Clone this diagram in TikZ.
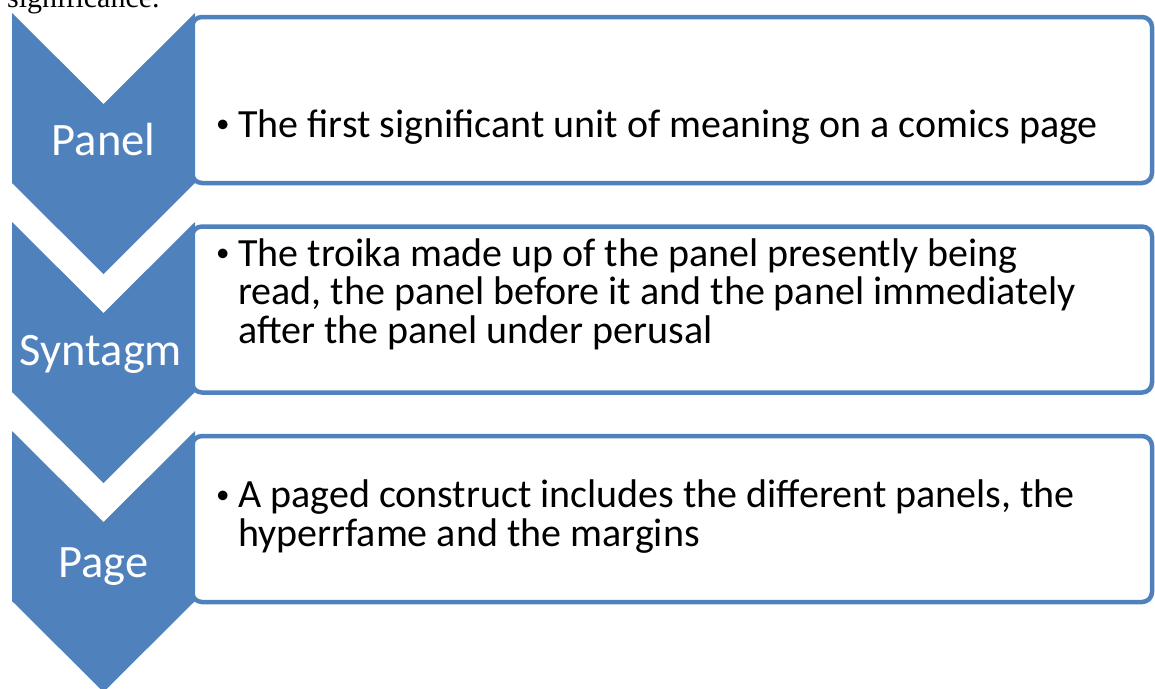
\documentclass[tikz,border=0pt]{standalone}
\usepackage{fontspec}
\setmainfont{Carlito}
\newfontfamily\serifface{Liberation Serif}
\definecolor{chevblue}{HTML}{4F81BD}
\newcommand{\bul}{\makebox[22pt][l]{\raisebox{4.5pt}{\fontsize{27}{27}\selectfont\textbullet}}}
\begin{document}
\begin{tikzpicture}[x=1pt, y=-1pt,
	chev/.style = {fill=chevblue},
	box/.style = {draw=chevblue, line width=4.5pt, fill=white, rounded corners=10pt, minimum width=960pt, minimum height=166pt, inner sep=0pt},
	stage/.style = {text=white, font=\fontsize{46.5}{50}\selectfont, anchor=base, inner sep=0pt},
	desc/.style = {font=\fontsize{40}{38.5}\selectfont, align=left, anchor=base west, inner sep=0pt}]
		\path[use as bounding box, clip] (0,0) rectangle (1155,688);
		\node[anchor=base west, inner sep=0pt, font=\serifface\fontsize{30}{32}\selectfont] (sig) at (7,7) {significance.};
		% boxes
		\node[box] (b1) at (672,100) {};
		\node[box] (b2) at (672,309.5) {};
		\node[box] (b3) at (672,519) {};
		% chevrons
		\fill[chev] (12,13) -- (103.5,104) -- (195,13) -- (195,183) -- (103.5,274) -- (12,183) -- cycle;
		\fill[chev] (12,222) -- (103.5,313) -- (195,222) -- (195,392) -- (103.5,483) -- (12,392) -- cycle;
		\fill[chev] (12,431) -- (103.5,522) -- (195,431) -- (195,601) -- (103.5,692) -- (12,601) -- cycle;
		\node[stage] (panel) at (103.5,155) {Panel};
		\node[stage] (syntagm) at (101,365) {Syntagm};
		\node[stage] (page) at (103.5,577) {Page};
		% texts (base = last line)
		\node[desc] (t1) at (216,137) {\bul The first significant unit of meaning on a comics page};
		\node[desc] (t2) at (216,343) {\bul The troika made up of the panel presently being\\\hspace*{22pt}read, the panel before it and the panel immediately\\\hspace*{22pt}after the panel under perusal};
		\node[desc] (t3) at (216,546) {\bul A paged construct includes the different panels, the\\\hspace*{22pt}hyperrfame and the margins};
	\end{tikzpicture}
\end{document}
